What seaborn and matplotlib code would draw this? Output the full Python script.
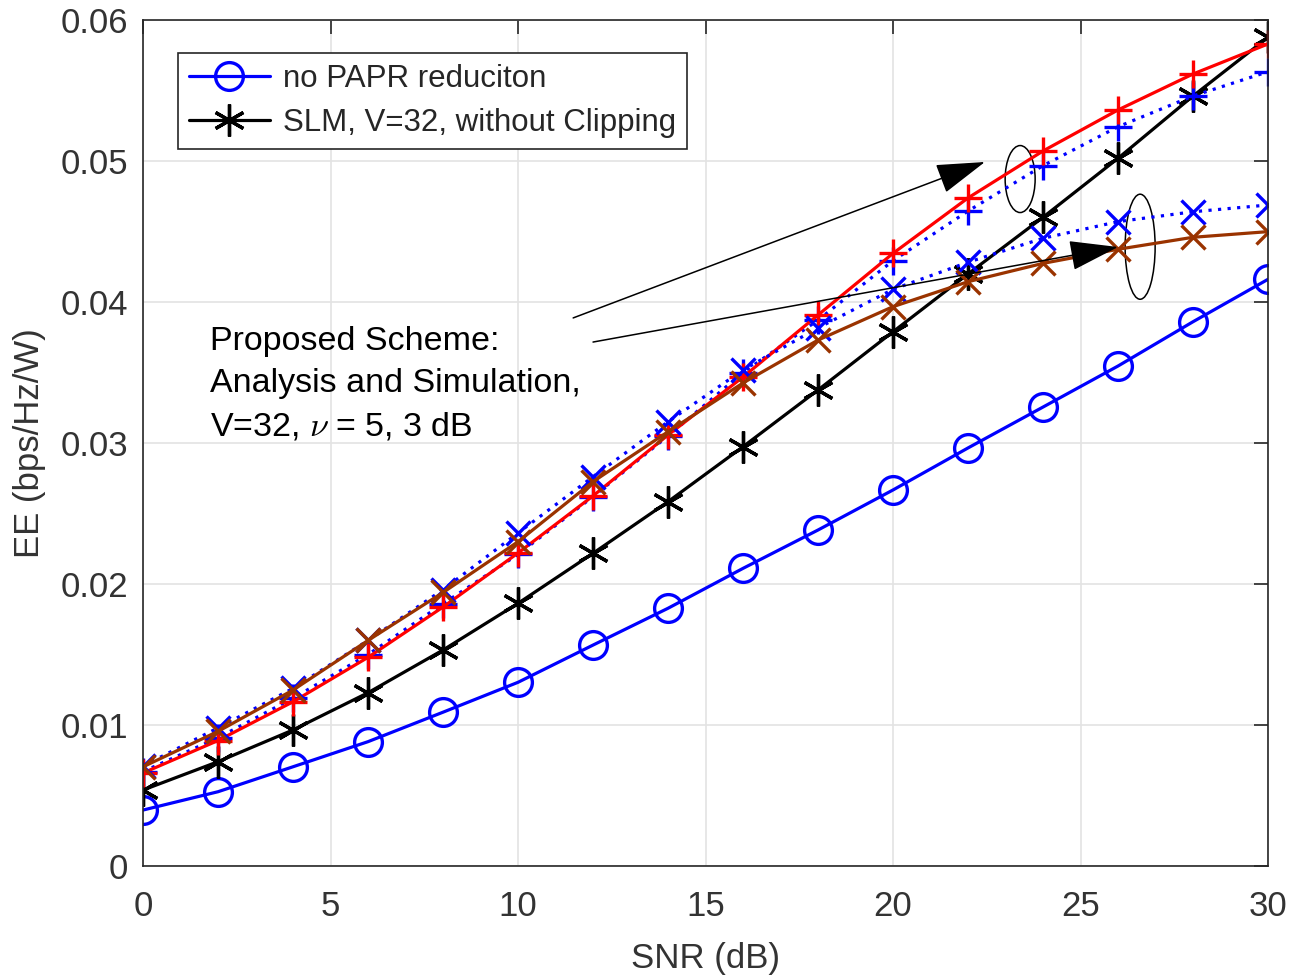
import matplotlib
matplotlib.use("Agg")
import matplotlib.pyplot as plt
from matplotlib.patches import Ellipse
import seaborn as sns
import pandas as pd

snr = [0, 2, 4, 6, 8, 10, 12, 14, 16, 18, 20, 22, 24, 26, 28, 30]
no_papr = [0.00397, 0.00527, 0.00704, 0.00882, 0.01091, 0.01303, 0.01567, 0.01828,
           0.02111, 0.02383, 0.02667, 0.02965, 0.03255, 0.03546, 0.03860, 0.04161]
slm_noclip = [0.00539, 0.00740, 0.00965, 0.01229, 0.01532, 0.01863, 0.02218, 0.02584,
              0.02974, 0.03376, 0.03789, 0.04199, 0.04601, 0.05019, 0.05461, 0.05877]
nu5_analysis = [0.00670, 0.00910, 0.01190, 0.01500, 0.01860, 0.02210, 0.02620, 0.03050,
                0.03500, 0.03872, 0.04293, 0.04645, 0.04967, 0.05243, 0.05461, 0.05633]
nu5_sim = [0.00660, 0.00890, 0.01165, 0.01480, 0.01837, 0.02220, 0.02625, 0.03057,
           0.03468, 0.03908, 0.04345, 0.04738, 0.05071, 0.05362, 0.05617, 0.05830]
db3_analysis = [0.00710, 0.00980, 0.01260, 0.01600, 0.01960, 0.02362, 0.02761, 0.03151,
                0.03518, 0.03816, 0.04090, 0.04282, 0.04452, 0.04570, 0.04640, 0.04688]
db3_sim = [0.00704, 0.00955, 0.01248, 0.01600, 0.01940, 0.02300, 0.02726, 0.03080,
           0.03426, 0.03730, 0.03967, 0.04144, 0.04274, 0.04374, 0.04459, 0.04499]

legend_labels = ["no PAPR reduciton", "SLM, V=32, without Clipping"]
annot_text = "Proposed Scheme:\nAnalysis and Simulation,\nV=32, $\\nu$ = 5, 3 dB"

sns.set_theme(style="whitegrid")
plt.rcParams['font.family'] = ['Liberation Sans', 'DejaVu Sans']
plt.rcParams['mathtext.fontset'] = 'cm'

fig = plt.figure(figsize=(13.04, 9.8), dpi=100)
ax = fig.add_axes([0.1097, 0.1163, 0.8627, 0.8633])
ax.set_facecolor('white')

brown = '#9A3300'
series = [
    (no_papr, 'blue', 'o', '-', legend_labels[0], 20),
    (slm_noclip, 'black', (6, 2, 0), '-', legend_labels[1], 23),
    (nu5_analysis, 'blue', '+', (0, (1, 2)), None, 20),
    (nu5_sim, 'red', '+', '-', None, 20),
    (db3_analysis, 'blue', 'x', (0, (1, 2)), None, 17),
    (db3_sim, brown, 'x', '-', None, 17),
]

for vals, col, mk, ls, lab, ms in series:
    df = pd.DataFrame({'snr': snr, 'ee': vals})
    kw = dict(markerfacecolor='none') if mk == 'o' else {}
    sns.lineplot(data=df, x='snr', y='ee', ax=ax, color=col, marker=mk,
                 linestyle=ls, linewidth=2.3, markersize=ms,
                 markeredgewidth=2.4, markeredgecolor=col, label=lab,
                 legend=False, **kw)

ax.set_xlim(0, 30)
ax.set_ylim(0, 0.06)
ax.set_xticks([0, 5, 10, 15, 20, 25, 30])
ax.set_yticks([0, 0.01, 0.02, 0.03, 0.04, 0.05, 0.06])
ax.set_yticklabels(['0', '0.01', '0.02', '0.03', '0.04', '0.05', '0.06'])
ax.grid(True, color='#e3e3e3', linewidth=1.2)
for s in ax.spines.values():
    s.set_visible(True)
    s.set_color('#262626')
    s.set_linewidth(1.2)
ax.tick_params(axis='both', which='both', direction='in', length=10, width=1.2,
               colors='#262626', labelsize=25, top=True, right=True,
               labelcolor='#333333')
ax.tick_params(axis='x', pad=17)
ax.tick_params(axis='y', pad=11)
ax.set_xlabel('SNR (dB)', fontsize=25, color='#333333', labelpad=14)
ax.set_ylabel('EE (bps/Hz/W)', fontsize=25, color='#333333', labelpad=10)

handles, labels = ax.get_legend_handles_labels()
leg = ax.legend(handles[:2], labels[:2], loc='upper left', bbox_to_anchor=(0.031, 0.961),
                fontsize=22.5, frameon=True, fancybox=False, edgecolor='#262626',
                framealpha=1, handlelength=2.6, borderpad=0.35, labelspacing=0.45,
                handletextpad=0.4, borderaxespad=0, markerscale=1.0)
leg.get_frame().set_linewidth(1.2)

ax.text(1.79, 0.03418, annot_text, fontsize=24.5, color='black', va='center', ha='left',
        linespacing=1.45)

ax.annotate('', xy=(22.45, 0.04993), xytext=(11.47, 0.03887),
            arrowprops=dict(arrowstyle='-|>,head_length=2.6,head_width=0.8',
                            color='black', lw=1.1, shrinkA=0, shrinkB=0))
ax.annotate('', xy=(26.0, 0.04390), xytext=(12.0, 0.03716),
            arrowprops=dict(arrowstyle='-|>,head_length=2.6,head_width=0.8',
                            color='black', lw=1.1, shrinkA=0, shrinkB=0))
ax.add_patch(Ellipse((23.39, 0.04872), 0.8, 0.00475, fill=False, edgecolor='black', lw=1.1))
ax.add_patch(Ellipse((26.59, 0.04392), 0.8, 0.00745, fill=False, edgecolor='black', lw=1.1))

fig.savefig('out.png', dpi=100)
